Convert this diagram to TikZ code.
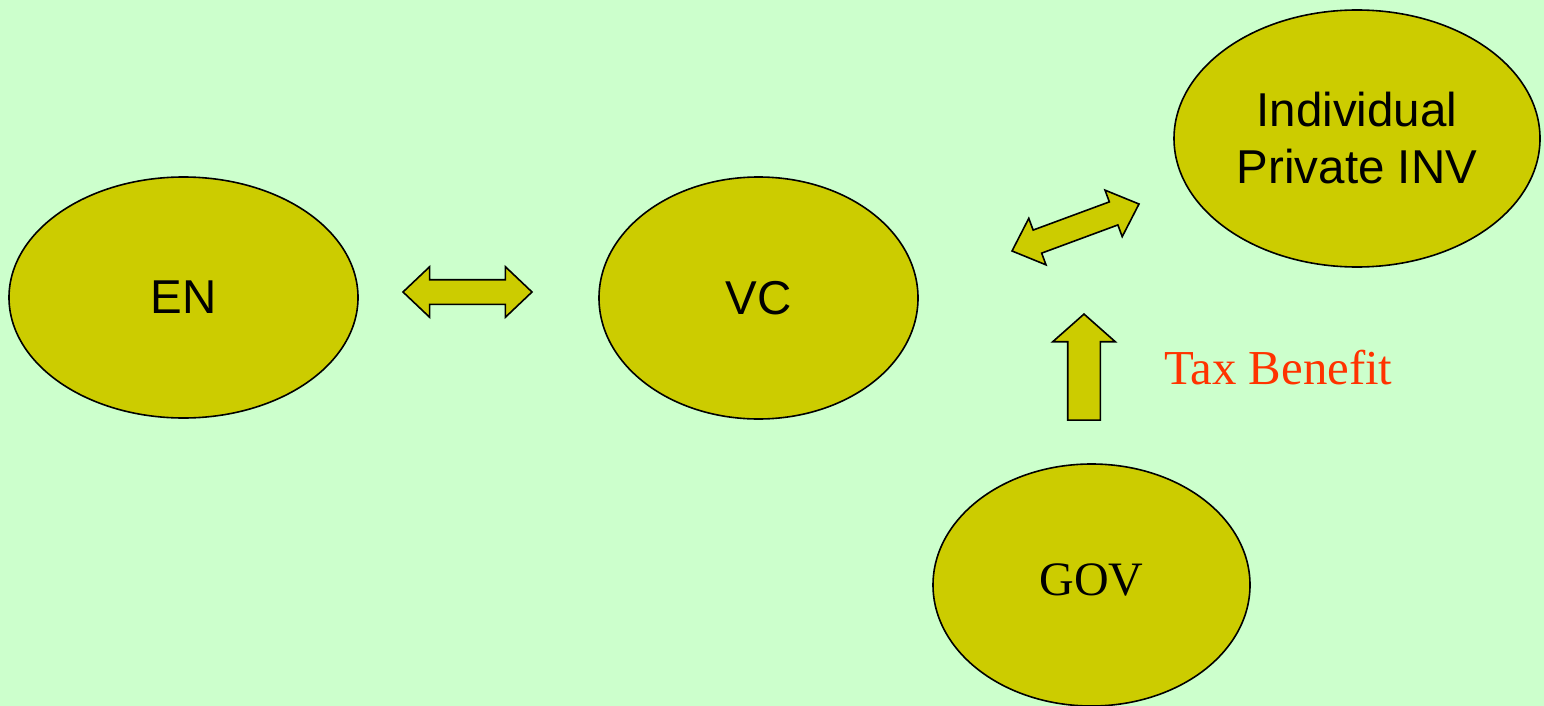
\documentclass[tikz,border=0pt]{standalone}
\usepackage{fontspec}
\setmainfont{Liberation Serif}
\newfontfamily\arialfont{Liberation Sans}
\usetikzlibrary{shapes.geometric,shapes.arrows}
\definecolor{bgcol}{HTML}{CCFFCC}
\definecolor{ovalcol}{HTML}{CCCC00}
\definecolor{taxred}{HTML}{FF3300}
\begin{document}
\begin{tikzpicture}[x=1pt,y=-1pt,
  party/.style={ellipse,draw,line width=1.6pt,fill=ovalcol,inner sep=0pt,align=center,
    font=\arialfont\fontsize{47.5}{57}\selectfont},
  blockarrow/.style={draw,line width=1.6pt,fill=ovalcol,inner xsep=0pt}]

\path[use as bounding box,fill=bgcol] (0,0) rectangle (1544,706);

% the four parties
\node[party,minimum width=349pt,minimum height=241pt] (en) at (183.5,297.5) {EN};
\node[party,minimum width=319pt,minimum height=242pt] (vc) at (758.5,298) {VC};
\node[party,minimum width=366pt,minimum height=257pt] (inv) at (1357,138.5) {Individual\\Private INV};
\node[party,font=\fontsize{48}{57}\selectfont,text depth=10pt,minimum width=317pt,minimum height=242pt] (gov) at (1091.5,585) {GOV};

% block arrows
\node[blockarrow,double arrow,inner ysep=11.5pt,double arrow head extend=13pt,
  double arrow tip angle=87,minimum height=129pt] (envc) at (467.5,292) {};
\node[blockarrow,double arrow,inner ysep=11.5pt,double arrow head extend=12.5pt,
  double arrow tip angle=85,minimum height=135.4pt,rotate=20.3] (vcinv) at (1075.5,227.5) {};
\node[blockarrow,single arrow,inner ysep=15.5pt,single arrow head extend=15pt,
  single arrow tip angle=97,minimum height=106pt,rotate=90,anchor=tip] (taxup) at (1084,313) {};

\node[text=taxred,font=\fontsize{48.8}{57}\selectfont,anchor=base west,inner sep=0pt] (tax) at (1164,384) {Tax Benefit};

\end{tikzpicture}
\end{document}
